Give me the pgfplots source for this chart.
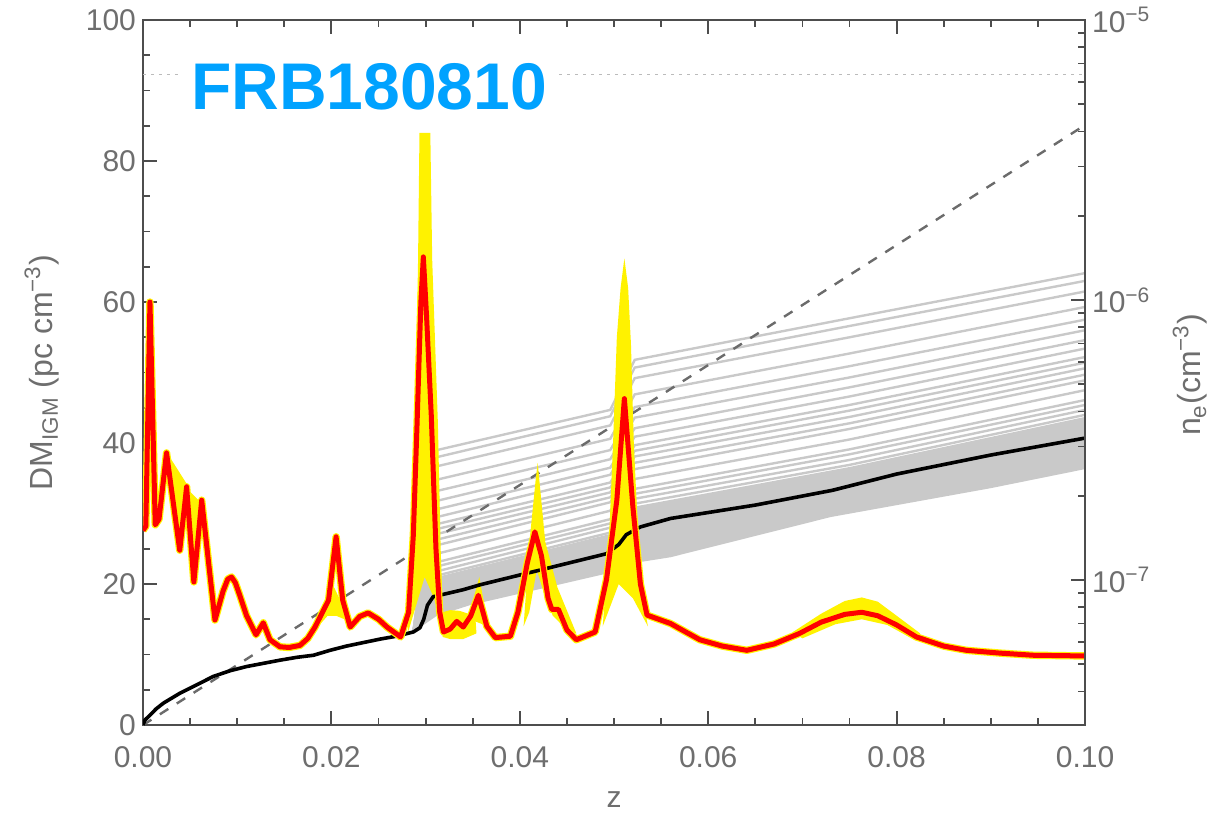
\documentclass[border=0pt]{standalone}
\usepackage{fontspec}
\setmainfont{Liberation Sans}
\usepackage{pgfplots}
\pgfplotsset{compat=1.18}
\usepackage{pgfplotstable}
\definecolor{axisgray}{HTML}{4D4D4D}
\definecolor{labelgray}{HTML}{6E6E6E}
\definecolor{glines}{HTML}{C9C9C9}
\definecolor{dashgray}{HTML}{6B6B6B}
\definecolor{dotgray}{HTML}{BBBBBB}
\definecolor{frbblue}{HTML}{00A2FF}

\pgfplotstableread{
x       l1   l2   l3   l4   l5   l6   l7   l8   l9   l10  l11  l12  l13  l14  l15  l16  l17  l18  l19
0.0287  13.2 13.2 13.2 13.2 13.2 13.2 13.2 13.2 13.2 13.2 13.2 13.2 13.2 13.2 13.2 13.2 13.2 13.2 13.2
0.0312  39.0 38.0 34.8 31.8 30.6 29.5 28.5 27.1 25.5 24.3 23.1 21.8 20.6 36.7 33.2 27.8 26.3 22.5 21.2
0.0496  44.7 43.8 40.6 37.7 36.5 35.5 34.4 33.0 31.6 30.4 29.2 28.0 26.7 42.5 39.0 33.7 32.3 28.6 27.3
0.0522  51.8 50.7 46.9 43.6 42.1 40.9 39.7 38.1 36.3 34.9 33.5 32.1 30.6 49.2 45.1 38.9 37.2 32.8 31.4
0.0750  57.7 56.6 52.7 49.3 47.9 46.6 45.4 43.7 42.0 40.5 39.1 37.6 36.2 55.0 50.9 44.6 42.8 38.4 36.9
0.1000  64.1 63.0 59.3 56.0 54.6 53.4 52.2 50.6 48.9 47.5 46.1 44.7 43.3 61.5 57.5 51.4 49.7 45.4 44.0
}\graylines

\pgfplotstableread{
x y
0.0000 27.6
0.0003 28.2
0.00074 60.0
0.0013 28.4
0.0017 29.2
0.0025 38.6
0.0039 24.8
0.00463 33.8
0.0054 20.3
0.00623 31.9
0.00764 14.9
0.0085 19.0
0.0090 20.7
0.0094 21.0
0.0098 20.2
0.0103 18.3
0.0110 15.5
0.0120 12.8
0.01277 14.5
0.01348 12.1
0.01454 11.1
0.0155 11.0
0.01667 11.3
0.0175 12.3
0.01826 13.9
0.0197 17.7
0.0205 26.7
0.0212 17.7
0.0220 13.9
0.0230 15.4
0.0239 15.9
0.0250 15.0
0.0259 13.9
0.02735 12.5
0.0282 16.0
0.0287 27.0
0.0291 43.0
0.0295 60.0
0.02976 66.4
0.0301 58.0
0.0306 44.0
0.0311 25.0
0.0315 16.0
0.0319 13.2
0.0326 13.6
0.0333 14.7
0.0340 13.9
0.0348 15.5
0.0356 18.4
0.0365 14.0
0.0374 12.4
0.0390 12.6
0.0398 16.0
0.0408 23.0
0.0416 27.4
0.0423 24.0
0.0430 18.0
0.0434 16.4
0.0441 16.4
0.0450 13.5
0.0460 12.1
0.0480 13.2
0.0492 20.6
0.0503 31.9
0.0511 46.3
0.0520 31.0
0.0528 20.0
0.0535 15.6
0.0560 14.4
0.0591 12.1
0.0615 11.2
0.0641 10.6
0.0670 11.5
0.0697 13.0
0.0720 14.6
0.0745 15.7
0.0763 16.0
0.0780 15.5
0.0800 14.2
0.0821 12.5
0.0850 11.2
0.0874 10.6
0.0910 10.2
0.0945 9.9
0.1000 9.8
}\redcurve

\begin{document}
\begin{tikzpicture}
\begin{axis}[
  name=main, scale only axis, width=471pt, height=352.5pt,
  xmin=0, xmax=0.1, ymin=0, ymax=100,
  axis line style={draw=axisgray, line width=1.1pt},
  xtick={0,0.02,0.04,0.06,0.08,0.1},
  xticklabels={0.00,0.02,0.04,0.06,0.08,0.10},
  minor xtick={0.005,0.01,0.015,0.025,0.03,0.035,0.045,0.05,0.055,0.065,0.07,0.075,0.085,0.09,0.095},
  ytick={0,20,40,60,80,100},
  yticklabels={0,20,40,60,80,100},
  minor ytick={5,10,15,25,30,35,45,50,55,65,70,75,85,90,95},
  xtick pos=both, xticklabel pos=bottom, ytick pos=left,
  tick align=inside,
  tick style={draw=axisgray, line width=0.9pt},
  major tick length=7pt, minor tick length=3.5pt,
  ticklabel style={font=\fontsize{15}{18}\selectfont, text=labelgray},
  xticklabel style={yshift=-7pt},
  xlabel={z},
  xlabel style={at={(axis description cs:0.5,-0.1064)}, anchor=center, font=\fontsize{15}{18}\selectfont, text=labelgray},
  ylabel={DM\textsubscript{IGM} (pc cm\textsuperscript{−3})},
  ylabel style={at={(axis description cs:-0.1072,0.5)}, anchor=center, font=\fontsize{16}{18}\selectfont, text=labelgray},
]
% dotted line
\addplot[dotgray, line width=0.8pt, dash pattern=on 1.5pt off 2.5pt] coordinates {(0,92.3) (0.1,92.3)};
% dense gray band
\addplot[fill=glines, draw=none] coordinates {
(0.0287,13.2) (0.0312,21.0) (0.0496,27.1) (0.0522,31.0) (0.075,36.6) (0.1,43.7)
(0.1,36.3) (0.09,33.6) (0.073,29.5) (0.056,23.8) (0.0522,23.0) (0.0496,21.6) (0.0347,17.0) (0.0312,15.5) (0.0287,13.2)};
% gray realisation lines
\pgfplotsinvokeforeach{l1,l2,l3,l4,l5,l6,l7,l8,l9,l10,l11,l12,l13,l14,l15,l16,l17,l18,l19}{
  \addplot[glines, line width=1.2pt] table[x=x, y=#1] {\graylines};
}
% dashed line
\addplot[dashgray, line width=1.2pt, dash pattern=on 5pt off 5pt] coordinates {(0,0) (0.1,85.1)};
% yellow envelopes
\addplot[fill=yellow, draw=none] coordinates {(0.0027,38.3) (0.0046,34.3) (0.0042,29.5) (0.0038,28.5) (0.0034,30.5)};
\addplot[fill=yellow, draw=none] coordinates {(0.0047,33.5) (0.0062,31.5) (0.0060,27.0) (0.0055,26.5) (0.0050,29.0)};
\addplot[fill=yellow, draw=none] coordinates {(0.0063,31.5) (0.0071,21.0) (0.0074,16.5) (0.0069,20.0) (0.0065,27.0)};
\addplot[fill=yellow, draw=none] coordinates {(0.0094,21.2) (0.0103,18.5) (0.0106,16.5) (0.0100,18.0)};
\addplot[fill=yellow, draw=none] coordinates {(0.0186,14.0) (0.0195,18.5) (0.0203,19.5) (0.0210,17.5) (0.0214,15.0) (0.0205,15.5) (0.0196,15.5)};
\addplot[fill=yellow, draw=none] coordinates {(0.0281,13) (0.0285,24) (0.0289,43) (0.0292,66) (0.02935,84) (0.0305,84) (0.0307,66) (0.0313,43) (0.0316,25) (0.0319,13) (0.0309,18) (0.0299,21) (0.0290,17)};
\addplot[fill=yellow, draw=none] coordinates {(0.0318,16) (0.0326,16.3) (0.0336,16.2) (0.0345,15.8) (0.0352,17) (0.0354,13) (0.0340,12.2) (0.0326,12.2) (0.0318,12.5)};
\addplot[fill=yellow, draw=none] coordinates {(0.0347,15) (0.0352,18.5) (0.0357,21.0) (0.0361,18.0) (0.0366,14.0)};
\addplot[fill=yellow, draw=none] coordinates {(0.0404,14) (0.0411,27) (0.0417,35) (0.0419,37.2) (0.0422,33) (0.0427,26) (0.0440,19.5) (0.0460,13) (0.0450,13.5) (0.0435,15.5) (0.0425,19) (0.0418,22) (0.0410,16)};
\addplot[fill=yellow, draw=none] coordinates {(0.0488,14) (0.0494,24) (0.0499,40) (0.0503,55) (0.0507,62) (0.0511,66.2) (0.0515,62) (0.0518,54) (0.0521,40) (0.0526,26) (0.0532,17) (0.0536,14) (0.0520,18) (0.0505,20)};
\addplot[fill=yellow, draw=none] coordinates {(0.0690,13.2) (0.0720,15.8) (0.0745,17.6) (0.0763,18.1) (0.0780,17.5) (0.0805,15.0) (0.0825,13.0) (0.0820,12.0) (0.0790,14.2) (0.0763,15.0) (0.0735,14.3) (0.0700,12.3)};
% black median line
\addplot[black, line width=1.8pt, line join=round] coordinates {
(0,0) (0.0002,0.7) (0.00074,1.4) (0.0014,2.3) (0.00216,3.1) (0.0039,4.5) (0.0057,5.7)
(0.00747,6.9) (0.00924,7.7) (0.011,8.3) (0.01277,8.75) (0.01454,9.2) (0.0163,9.6)
(0.0181,9.9) (0.01985,10.6) (0.0216,11.2) (0.0234,11.7) (0.0252,12.2) (0.0269,12.6)
(0.0287,13.2) (0.0294,13.8) (0.0298,15.0) (0.0302,17.0) (0.0308,18.2) (0.0340,19.2)
(0.0358,19.9) (0.0492,24.3) (0.0505,25.6) (0.0513,27.0) (0.0528,28.1) (0.0560,29.3)
(0.0650,31.2) (0.0732,33.3) (0.0800,35.6) (0.0900,38.3) (0.1000,40.7)};
% red curve with yellow border
\addplot[yellow, line width=3.7pt, line join=round] table[x=x,y=y] {\redcurve};
\addplot[red, line width=2.5pt, line join=round] table[x=x,y=y] {\redcurve};
\node[font=\bfseries\fontsize{33}{33}\selectfont, text=frbblue, fill=white, inner xsep=5pt, inner ysep=2pt] at (axis cs:0.024,90.6) {FRB180810};
\coordinate (bl) at (rel axis cs:-0.1518,-0.1262);
\coordinate (tr) at (rel axis cs:1.1454,1.0284);
\end{axis}
\begin{axis}[
  scale only axis, width=471pt, height=352.5pt,
  xmin=0, xmax=0.1, ymode=log, ymin=3.034e-8, ymax=1e-5,
  hide x axis, axis y line*=right,
  axis line style={draw=axisgray, line width=1.1pt},
  ytick={1e-7,1e-6,1e-5},
  yticklabels={10\textsuperscript{−7},10\textsuperscript{−6},10\textsuperscript{−5}},
  minor ytick={4e-8,5e-8,6e-8,7e-8,8e-8,9e-8,2e-7,3e-7,4e-7,5e-7,6e-7,7e-7,8e-7,9e-7,2e-6,3e-6,4e-6,5e-6,6e-6,7e-6,8e-6,9e-6},
  tick align=inside,
  tick style={draw=axisgray, line width=0.9pt},
  major tick length=7pt, minor tick length=3.5pt,
  ticklabel style={font=\fontsize{15}{18}\selectfont, text=labelgray},
  ylabel={n\textsubscript{e}(cm\textsuperscript{−3})},
  ylabel style={at={(axis description cs:1.1115,0.4965)}, anchor=center, font=\fontsize{16}{18}\selectfont, text=labelgray},
]
\addplot[draw=none] coordinates {(0,1e-7)};
\end{axis}
\pgfresetboundingbox
\path[use as bounding box] (bl) rectangle (tr);
\end{tikzpicture}
\end{document}
